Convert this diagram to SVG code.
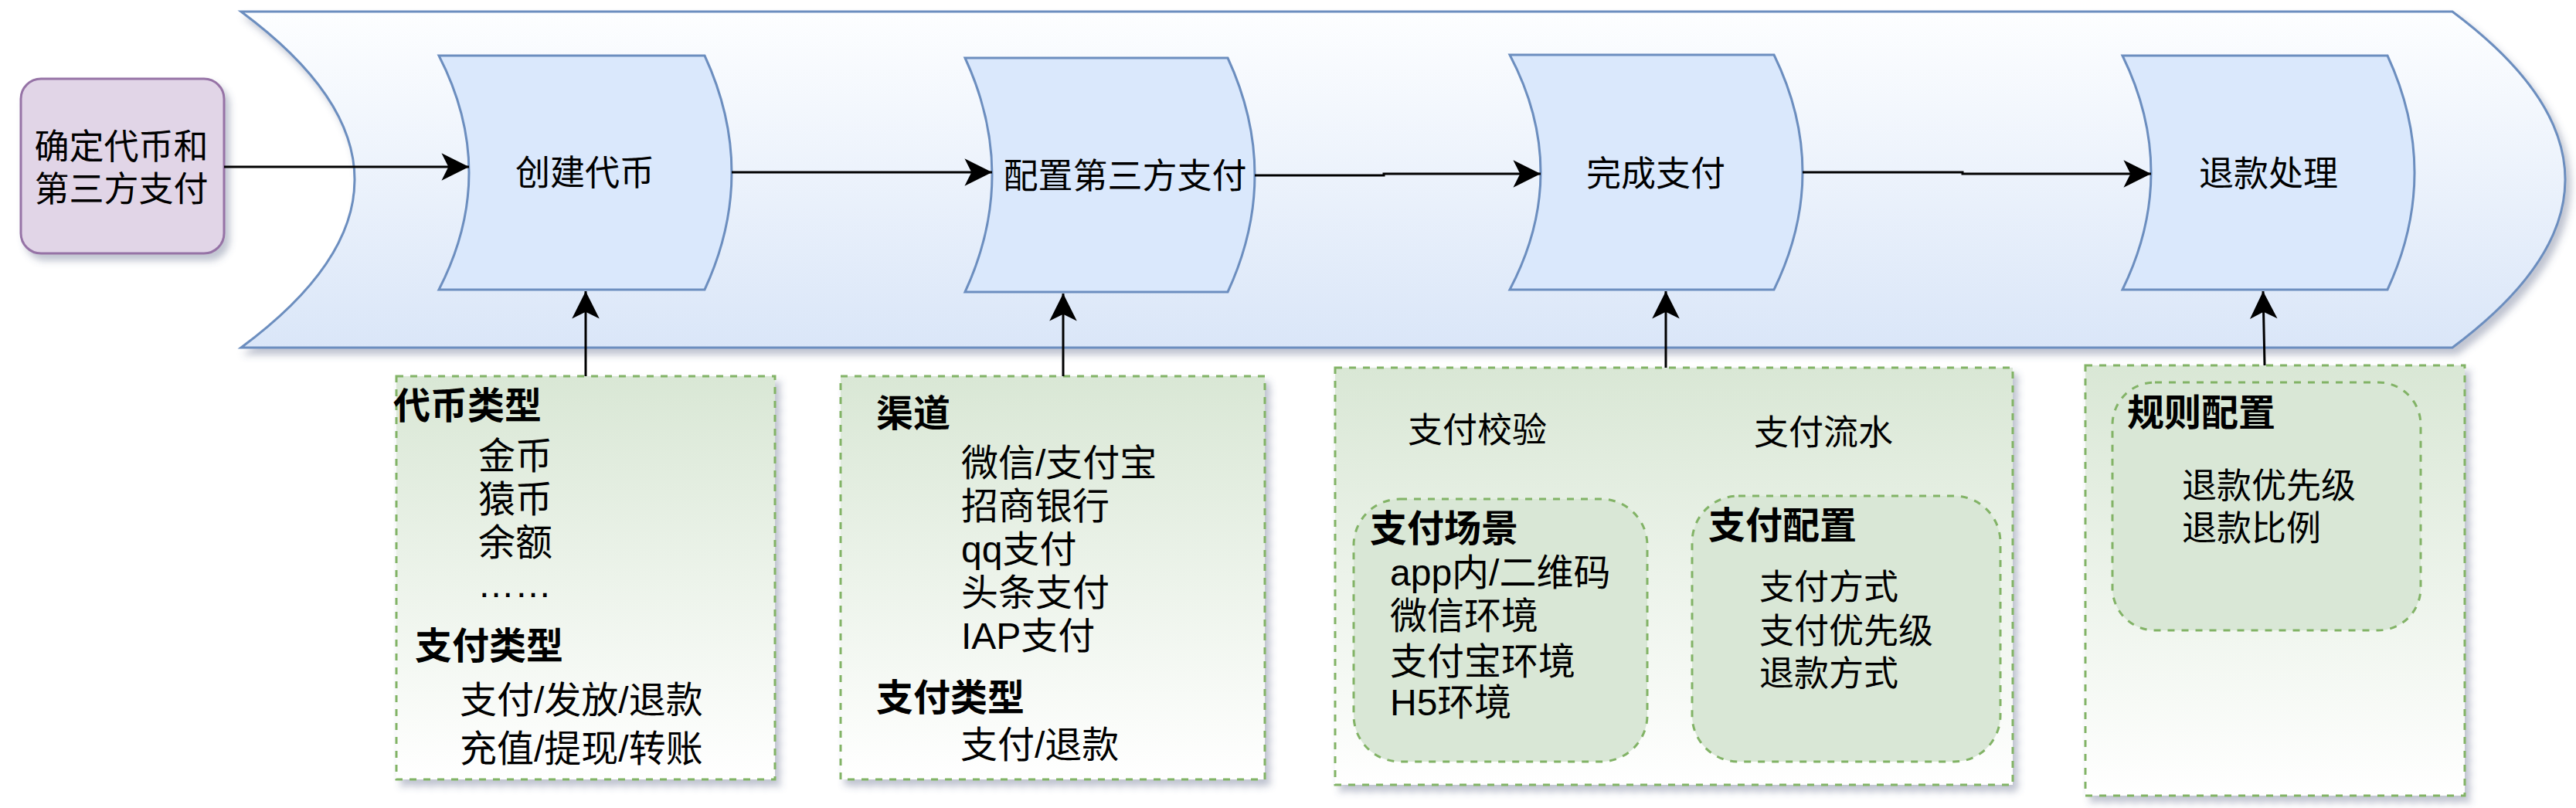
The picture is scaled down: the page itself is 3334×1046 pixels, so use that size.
<svg xmlns="http://www.w3.org/2000/svg" width="3334" height="1046" viewBox="0 0 3334 1046">
<style>
text{font-family:"Liberation Sans","Noto Sans CJK SC",sans-serif;font-size:45px;fill:#000}
.b{font-weight:bold;font-size:48px}
.l{font-size:48px}
.m{text-anchor:middle}
.step{fill:#dae8fc;stroke:#6c8ebf;stroke-width:3}
.box{fill:url(#gGreen);stroke:#82b366;stroke-width:3;stroke-dasharray:9 9}
.inner{fill:#d9e7d6;stroke:#82b366;stroke-width:3;stroke-dasharray:9 9}
.edge{fill:none;stroke:#000;stroke-width:3}
</style>
<defs>
<linearGradient id="gBlue" x1="0" y1="0" x2="0" y2="1">
<stop offset="0" stop-color="#fdfeff"/><stop offset="1" stop-color="#dae6f8"/>
</linearGradient>
<linearGradient id="gGreen" x1="0" y1="0" x2="0" y2="1">
<stop offset="0" stop-color="#d9e7d5"/><stop offset="1" stop-color="#ffffff"/>
</linearGradient>
<filter id="sh" x="-5%" y="-5%" width="115%" height="120%">
<feDropShadow dx="6" dy="8" stdDeviation="5" flood-color="#4a5278" flood-opacity="0.35"/>
</filter>
<marker id="arr" markerUnits="userSpaceOnUse" markerWidth="40" markerHeight="40" viewBox="-34 -17 36 34" refX="0" refY="0" orient="auto">
<path d="M0,0 L-32,-16 L-24,0 L-32,16 Z" fill="#000"/>
</marker>
</defs>

<g id="lane">
<path d="M312,15 L3174,15 Q3466,232.5 3174,450 L312,450 Q606,232.5 312,15 Z" fill="url(#gBlue)" stroke="#6c8ebf" stroke-width="3" filter="url(#sh)"/>
</g>

<g id="start">
<rect x="27" y="102" width="263" height="226" rx="26" fill="#e1d5e7" stroke="#9673a6" stroke-width="3" filter="url(#sh)"/>
<text class="m" x="157" y="206">确定代币和</text>
<text class="m" x="157" y="261">第三方支付</text>
</g>

<g id="n-create">
<path class="step" d="M568,72 L912,72 Q982,223.5 912,375 L568,375 Q646,223.5 568,72 Z"/>
<text class="m" x="757" y="240">创建代币</text>
</g>
<g id="n-config">
<path class="step" d="M1249,75 L1589,75 Q1659,226.5 1589,378 L1249,378 Q1319,226.5 1249,75 Z"/>
<text class="m" x="1456" y="244">配置第三方支付</text>
</g>
<g id="n-pay">
<path class="step" d="M1954,71 L2296,71 Q2370,223 2296,375 L1954,375 Q2034,223 1954,71 Z"/>
<text class="m" x="2143" y="241">完成支付</text>
</g>
<g id="n-refund">
<path class="step" d="M2747,72 L3090,72 Q3160,223.5 3090,375 L2747,375 Q2821,223.5 2747,72 Z"/>
<text class="m" x="2936" y="241">退款处理</text>
</g>

<g id="box-token">
<rect class="box" x="513" y="487" width="490" height="522" filter="url(#sh)"/>
<text class="b" x="509" y="542">代币类型</text>
<text class="l" x="619" y="607">金币</text>
<text class="l" x="619" y="663">猿币</text>
<text class="l" x="619" y="719">余额</text>
<text class="l" x="618" y="773">……</text>
<text class="b" x="537" y="853">支付类型</text>
<text class="l" x="595" y="923">支付/发放/退款</text>
<text class="l" x="595" y="986">充值/提现/转账</text>
</g>

<g id="box-channel">
<rect class="box" x="1088" y="487" width="549" height="522" filter="url(#sh)"/>
<text class="b" x="1134" y="552">渠道</text>
<text class="l" x="1244" y="616">微信/支付宝</text>
<text class="l" x="1244" y="672">招商银行</text>
<text class="l" x="1244" y="728">qq支付</text>
<text class="l" x="1244" y="784">头条支付</text>
<text class="l" x="1244" y="840">IAP支付</text>
<text class="b" x="1134" y="920">支付类型</text>
<text class="l" x="1243" y="981">支付/退款</text>
</g>

<g id="box-pay">
<rect class="box" x="1728" y="476" width="877" height="540" filter="url(#sh)"/>
<text x="1822" y="573">支付校验</text>
<text x="2270" y="576">支付流水</text>
</g>
<g id="box-scene">
<rect class="inner" x="1752" y="646" width="380" height="340" rx="60"/>
<text class="b" x="1773" y="701">支付场景</text>
<text class="l" x="1799" y="758">app内/二维码</text>
<text class="l" x="1799" y="814">微信环境</text>
<text class="l" x="1799" y="873">支付宝环境</text>
<text class="l" x="1799" y="926">H5环境</text>
</g>
<g id="box-payconf">
<rect class="inner" x="2190" y="642" width="399" height="344" rx="60"/>
<text class="b" x="2211" y="697">支付配置</text>
<text x="2277" y="776">支付方式</text>
<text x="2277" y="833">支付优先级</text>
<text x="2277" y="888">退款方式</text>
</g>

<g id="box-rule">
<rect class="box" x="2699" y="473" width="491" height="557" filter="url(#sh)"/>
</g>
<g id="box-ruleconf">
<rect class="inner" x="2734" y="495" width="399" height="321" rx="55"/>
<text class="b" x="2753" y="551">规则配置</text>
<text x="2824" y="645">退款优先级</text>
<text x="2824" y="700">退款比例</text>
</g>

<g id="connectors">
<path class="edge" d="M290,216 L607,216" marker-end="url(#arr)"/>
<path class="edge" d="M947,223 L1284,223" marker-end="url(#arr)"/>
<path class="edge" d="M1624,227 L1791,227 L1791,225 L1994,225" marker-end="url(#arr)"/>
<path class="edge" d="M2333,223 L2540,223 L2540,225 L2784,225" marker-end="url(#arr)"/>
<path class="edge" d="M758,487 L758,377" marker-end="url(#arr)"/>
<path class="edge" d="M1376,487 L1376,380" marker-end="url(#arr)"/>
<path class="edge" d="M2156,476 L2156,377" marker-end="url(#arr)"/>
<path class="edge" d="M2931,473 L2929,377" marker-end="url(#arr)"/>
</g>
</svg>
